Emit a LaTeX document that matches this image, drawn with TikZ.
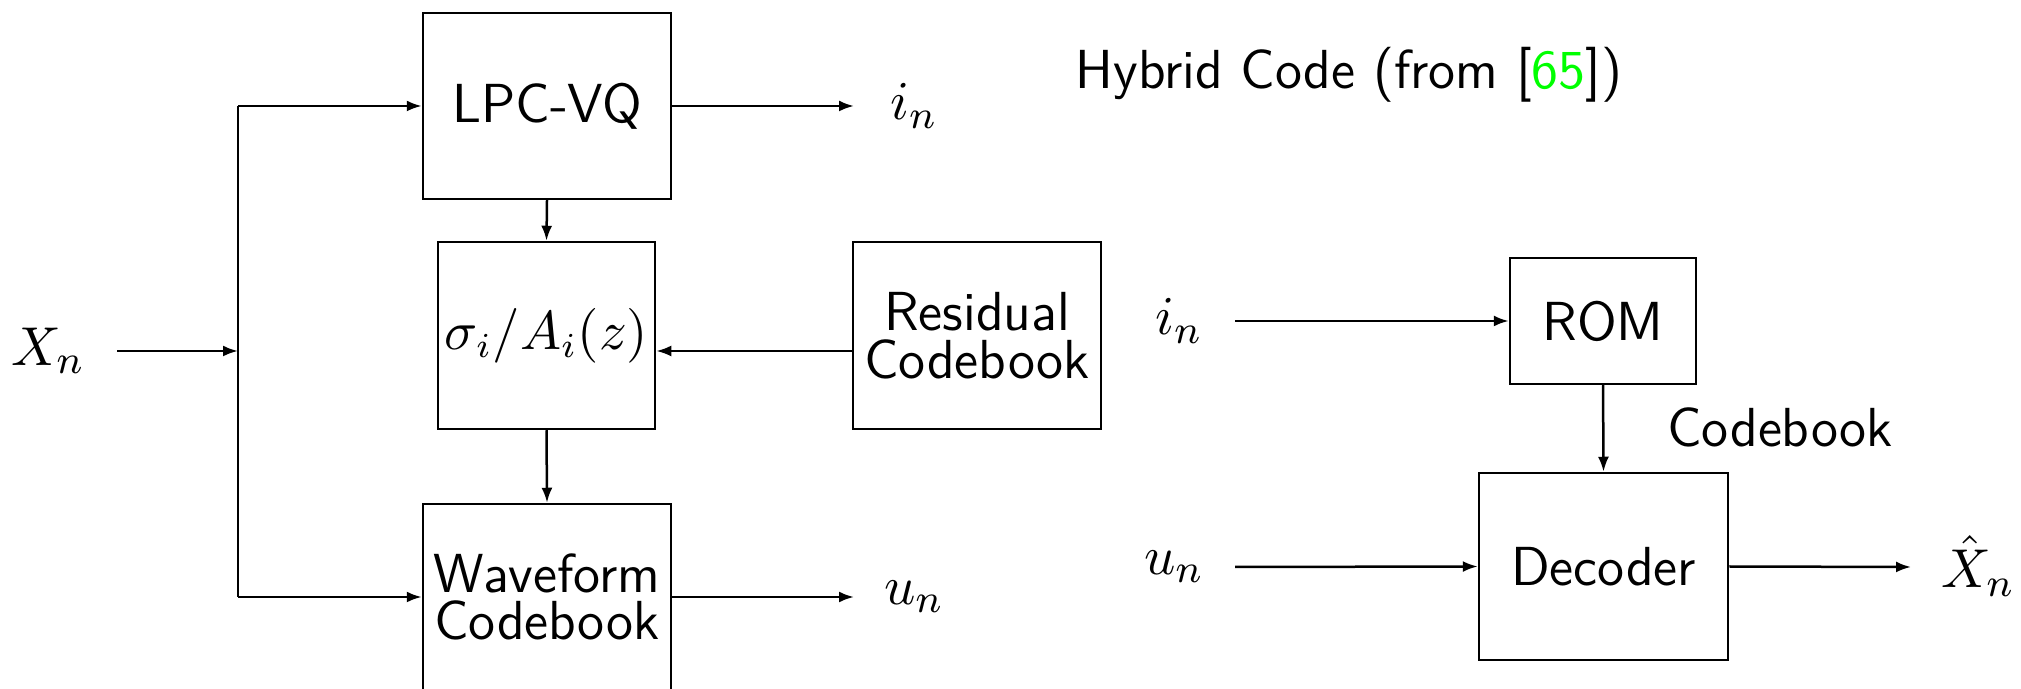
\documentclass[tikz,border=0pt]{standalone}
\usepackage{fontspec}
\usetikzlibrary{arrows.meta}
\begin{document}
\begin{tikzpicture}[x=0.2pt,y=-0.2pt,
  box/.style={draw, line width=0.5pt, inner sep=0pt, align=center, font=\sffamily\fontsize{11}{9.5}\selectfont},
  lbl/.style={font=\sffamily\fontsize{11}{9.5}\selectfont, inner sep=0pt},
  mlbl/.style={font=\fontsize{10.8}{12}\selectfont, inner sep=0pt},
  conn/.style={line width=0.5pt},
  arr/.style={conn, -{Latex[length=3pt,width=2.2pt]}}]
\useasboundingbox (0,0) rectangle (2021,689);
% encoder blocks
\node[box, minimum width=49.6pt, minimum height=37.2pt] (lpc) at (547,106) {LPC-VQ};
\node[box, minimum width=43.4pt, minimum height=37.4pt, font=\fontsize{10.6}{12}\selectfont] (sig) at (546.5,335.5) {$\sigma_i/A_i(z)$};
\node[box, minimum width=49.6pt, minimum height=37.2pt] (wave) at (547,597) {Waveform\\Codebook};
\node[box, minimum width=49.6pt, minimum height=37.4pt] (res) at (977,335.5) {Residual\\Codebook};
% decoder blocks
\node[box, minimum width=37.2pt, minimum height=25.2pt] (rom) at (1603,321) {ROM};
\node[box, minimum width=49.8pt, minimum height=37.4pt] (dec) at (1603.5,566.5) {Decoder};
% labels
\node[mlbl] (xn) at (48,351) {$X_n$};
\node[mlbl] (in1) at (914,106) {$i_n$};
\node[mlbl] (un1) at (914,597) {$u_n$};
\node[mlbl] (in2) at (1179,321) {$i_n$};
\node[mlbl] (un2) at (1174,567) {$u_n$};
\node[mlbl] (xh) at (1978,566) {$\hat{X}_n$};
\node[lbl, anchor=base] (cb) at (1780,447) {Codebook};
\node[lbl, anchor=base] (title) at (1349,89) {Hybrid Code (from [\textcolor{green}{65}])};
% coordinates
\coordinate (xs) at (117,351);
\coordinate (j) at (238,351);
\coordinate (jt) at (238,106);
\coordinate (jb) at (238,597);
\coordinate (ie) at (854,106);
\coordinate (ue) at (854,597);
\coordinate (is) at (1235,321);
\coordinate (us) at (1235,567);
\coordinate (xe) at (1911,567);
% connectors
\draw[arr] (xs) -- (j);
\draw[conn] (jt) -- (jb);
\draw[arr] (jt) -- (lpc.west);
\draw[arr] (jb) -- (wave.west);
\draw[arr] (lpc.east) -- (ie);
\draw[arr] (wave.east) -- (ue);
\draw[arr] (lpc.south) -- (sig.north);
\draw[arr] (sig.south) -- (wave.north);
\draw[arr] (res.west |- j) -- (sig.east |- j);
\draw[arr] (is) -- (rom.west);
\draw[arr] (us) -- (dec.west);
\draw[arr] (rom.south) -- (dec.north);
\draw[arr] (dec.east) -- (xe);
\end{tikzpicture}
\end{document}
